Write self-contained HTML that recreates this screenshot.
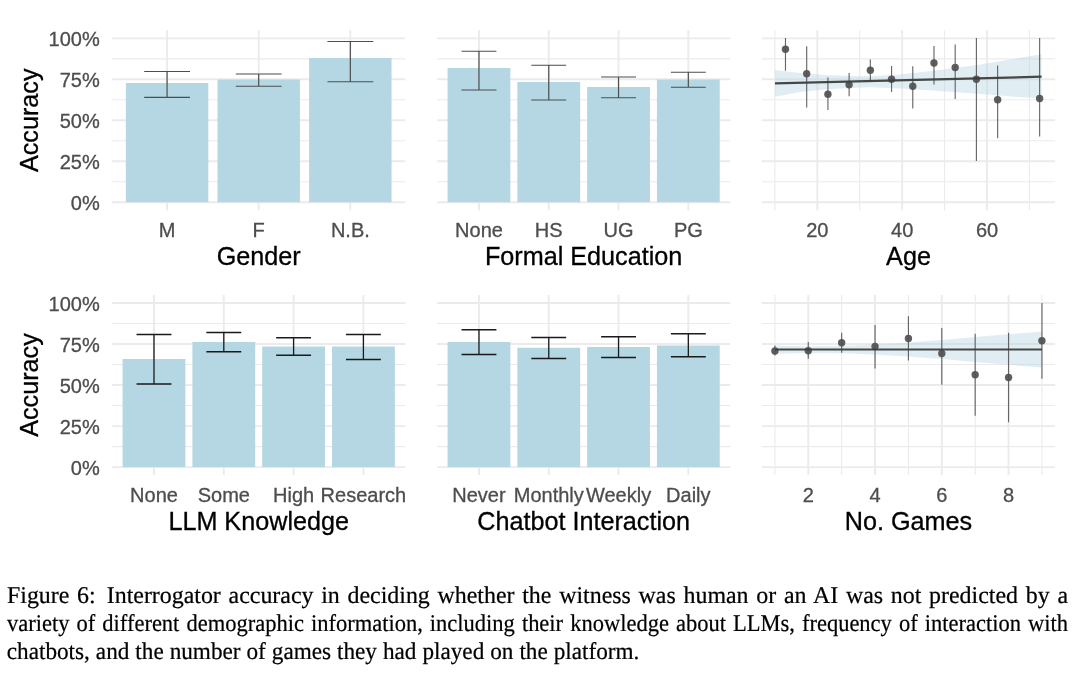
<!DOCTYPE html>
<html lang="en"><head><meta charset="utf-8"><title>Figure 6</title>
<style>
html,body{margin:0;padding:0;background:#fff;}
body{width:1080px;height:685px;position:relative;overflow:hidden;}
svg{position:absolute;left:0;top:0;display:block;}
.cap{text-rendering:geometricPrecision;position:absolute;left:6.8px;top:582px;width:1061px;font-family:"Liberation Serif","Times New Roman",serif;font-size:23.2px;line-height:28.2px;color:#000;margin:0;white-space:nowrap;-webkit-text-stroke:0.22px #000;}
.cap>div{transform:scale(1,1.035);transform-origin:0 21.9px;}
.cap .l1{transform:scale(1.03,1.035);width:calc(1061px / 1.03);}
.cap .l2{transform:scale(0.97,1.035);width:calc(1061px / 0.97);}
.cap .j{text-align:justify;text-align-last:justify;white-space:normal;}
.cap .sp{display:inline-block;width:3.2px;}

.cap .l3{word-spacing:0.2px;}
</style></head><body>
<svg width="1080" height="685" viewBox="0 0 1080 685" font-family="'Liberation Sans', Arial, Helvetica, sans-serif">
<text x="99.7" y="209.80" text-anchor="end" font-size="20" fill="#4d4d4d" stroke="#4d4d4d" stroke-width="0.3">0%</text>
<text x="99.7" y="168.84" text-anchor="end" font-size="20" fill="#4d4d4d" stroke="#4d4d4d" stroke-width="0.3">25%</text>
<text x="99.7" y="127.87" text-anchor="end" font-size="20" fill="#4d4d4d" stroke="#4d4d4d" stroke-width="0.3">50%</text>
<text x="99.7" y="86.91" text-anchor="end" font-size="20" fill="#4d4d4d" stroke="#4d4d4d" stroke-width="0.3">75%</text>
<text x="99.7" y="45.95" text-anchor="end" font-size="20" fill="#4d4d4d" stroke="#4d4d4d" stroke-width="0.3">100%</text>
<text transform="translate(38.3,120.25) rotate(-90)" text-anchor="middle" font-size="25.2" fill="#000" stroke="#000" stroke-width="0.3">Accuracy</text>
<text x="99.7" y="474.70" text-anchor="end" font-size="20" fill="#4d4d4d" stroke="#4d4d4d" stroke-width="0.3">0%</text>
<text x="99.7" y="433.68" text-anchor="end" font-size="20" fill="#4d4d4d" stroke="#4d4d4d" stroke-width="0.3">25%</text>
<text x="99.7" y="392.65" text-anchor="end" font-size="20" fill="#4d4d4d" stroke="#4d4d4d" stroke-width="0.3">50%</text>
<text x="99.7" y="351.62" text-anchor="end" font-size="20" fill="#4d4d4d" stroke="#4d4d4d" stroke-width="0.3">75%</text>
<text x="99.7" y="310.60" text-anchor="end" font-size="20" fill="#4d4d4d" stroke="#4d4d4d" stroke-width="0.3">100%</text>
<text transform="translate(38.3,385.05) rotate(-90)" text-anchor="middle" font-size="25.2" fill="#000" stroke="#000" stroke-width="0.3">Accuracy</text>
<line x1="112.1" x2="405.3" y1="181.72" y2="181.72" stroke="#ebebeb" stroke-width="1.1"/>
<line x1="112.1" x2="405.3" y1="140.76" y2="140.76" stroke="#ebebeb" stroke-width="1.1"/>
<line x1="112.1" x2="405.3" y1="99.79" y2="99.79" stroke="#ebebeb" stroke-width="1.1"/>
<line x1="112.1" x2="405.3" y1="58.83" y2="58.83" stroke="#ebebeb" stroke-width="1.1"/>
<line x1="112.1" x2="405.3" y1="202.20" y2="202.20" stroke="#ebebeb" stroke-width="1.9"/>
<line x1="112.1" x2="405.3" y1="161.24" y2="161.24" stroke="#ebebeb" stroke-width="1.9"/>
<line x1="112.1" x2="405.3" y1="120.27" y2="120.27" stroke="#ebebeb" stroke-width="1.9"/>
<line x1="112.1" x2="405.3" y1="79.31" y2="79.31" stroke="#ebebeb" stroke-width="1.9"/>
<line x1="112.1" x2="405.3" y1="38.35" y2="38.35" stroke="#ebebeb" stroke-width="1.9"/>
<line x1="167.07" x2="167.07" y1="30.2" y2="210.3" stroke="#ebebeb" stroke-width="1.9"/>
<line x1="258.70" x2="258.70" y1="30.2" y2="210.3" stroke="#ebebeb" stroke-width="1.9"/>
<line x1="350.33" x2="350.33" y1="30.2" y2="210.3" stroke="#ebebeb" stroke-width="1.9"/>
<rect x="125.84" y="83.00" width="82.46" height="119.20" fill="#b5d7e3"/>
<rect x="217.47" y="79.50" width="82.46" height="122.70" fill="#b5d7e3"/>
<rect x="309.09" y="58.00" width="82.46" height="144.20" fill="#b5d7e3"/>
<path d="M144.17 71.50H189.98M144.17 97.30H189.98M167.07 71.50V97.30" stroke="#4d4d4d" stroke-width="1.2" fill="none"/>
<path d="M235.79 74.00H281.61M235.79 86.25H281.61M258.70 74.00V86.25" stroke="#4d4d4d" stroke-width="1.2" fill="none"/>
<path d="M327.42 41.50H373.23M327.42 81.75H373.23M350.33 41.50V81.75" stroke="#4d4d4d" stroke-width="1.2" fill="none"/>
<text x="167.07" y="236.70" text-anchor="middle" font-size="20" fill="#4d4d4d" stroke="#4d4d4d" stroke-width="0.3">M</text>
<text x="258.70" y="236.70" text-anchor="middle" font-size="20" fill="#4d4d4d" stroke="#4d4d4d" stroke-width="0.3">F</text>
<text x="350.33" y="236.70" text-anchor="middle" font-size="20" fill="#4d4d4d" stroke="#4d4d4d" stroke-width="0.3">N.B.</text>
<text x="258.70" y="265.00" text-anchor="middle" font-size="25.2" fill="#000" stroke="#000" stroke-width="0.3">Gender</text>
<line x1="437.1" x2="730.2" y1="181.72" y2="181.72" stroke="#ebebeb" stroke-width="1.1"/>
<line x1="437.1" x2="730.2" y1="140.76" y2="140.76" stroke="#ebebeb" stroke-width="1.1"/>
<line x1="437.1" x2="730.2" y1="99.79" y2="99.79" stroke="#ebebeb" stroke-width="1.1"/>
<line x1="437.1" x2="730.2" y1="58.83" y2="58.83" stroke="#ebebeb" stroke-width="1.1"/>
<line x1="437.1" x2="730.2" y1="202.20" y2="202.20" stroke="#ebebeb" stroke-width="1.9"/>
<line x1="437.1" x2="730.2" y1="161.24" y2="161.24" stroke="#ebebeb" stroke-width="1.9"/>
<line x1="437.1" x2="730.2" y1="120.27" y2="120.27" stroke="#ebebeb" stroke-width="1.9"/>
<line x1="437.1" x2="730.2" y1="79.31" y2="79.31" stroke="#ebebeb" stroke-width="1.9"/>
<line x1="437.1" x2="730.2" y1="38.35" y2="38.35" stroke="#ebebeb" stroke-width="1.9"/>
<line x1="478.97" x2="478.97" y1="30.2" y2="210.3" stroke="#ebebeb" stroke-width="1.9"/>
<line x1="548.76" x2="548.76" y1="30.2" y2="210.3" stroke="#ebebeb" stroke-width="1.9"/>
<line x1="618.54" x2="618.54" y1="30.2" y2="210.3" stroke="#ebebeb" stroke-width="1.9"/>
<line x1="688.33" x2="688.33" y1="30.2" y2="210.3" stroke="#ebebeb" stroke-width="1.9"/>
<rect x="447.57" y="68.00" width="62.81" height="134.20" fill="#b5d7e3"/>
<rect x="517.35" y="82.00" width="62.81" height="120.20" fill="#b5d7e3"/>
<rect x="587.14" y="87.00" width="62.81" height="115.20" fill="#b5d7e3"/>
<rect x="656.92" y="79.50" width="62.81" height="122.70" fill="#b5d7e3"/>
<path d="M461.53 51.25H496.42M461.53 90.00H496.42M478.97 51.25V90.00" stroke="#4d4d4d" stroke-width="1.2" fill="none"/>
<path d="M531.31 65.25H566.20M531.31 100.00H566.20M548.76 65.25V100.00" stroke="#4d4d4d" stroke-width="1.2" fill="none"/>
<path d="M601.10 77.00H635.99M601.10 97.75H635.99M618.54 77.00V97.75" stroke="#4d4d4d" stroke-width="1.2" fill="none"/>
<path d="M670.88 72.25H705.77M670.88 87.25H705.77M688.33 72.25V87.25" stroke="#4d4d4d" stroke-width="1.2" fill="none"/>
<text x="478.97" y="236.70" text-anchor="middle" font-size="20" fill="#4d4d4d" stroke="#4d4d4d" stroke-width="0.3">None</text>
<text x="548.76" y="236.70" text-anchor="middle" font-size="20" fill="#4d4d4d" stroke="#4d4d4d" stroke-width="0.3">HS</text>
<text x="618.54" y="236.70" text-anchor="middle" font-size="20" fill="#4d4d4d" stroke="#4d4d4d" stroke-width="0.3">UG</text>
<text x="688.33" y="236.70" text-anchor="middle" font-size="20" fill="#4d4d4d" stroke="#4d4d4d" stroke-width="0.3">PG</text>
<text x="583.65" y="265.00" text-anchor="middle" font-size="25.2" fill="#000" stroke="#000" stroke-width="0.3">Formal Education</text>
<line x1="761.9" x2="1055.1" y1="181.72" y2="181.72" stroke="#ebebeb" stroke-width="1.1"/>
<line x1="761.9" x2="1055.1" y1="140.76" y2="140.76" stroke="#ebebeb" stroke-width="1.1"/>
<line x1="761.9" x2="1055.1" y1="99.79" y2="99.79" stroke="#ebebeb" stroke-width="1.1"/>
<line x1="761.9" x2="1055.1" y1="58.83" y2="58.83" stroke="#ebebeb" stroke-width="1.1"/>
<line x1="774.87" x2="774.87" y1="30.2" y2="210.3" stroke="#ebebeb" stroke-width="1.1"/>
<line x1="859.73" x2="859.73" y1="30.2" y2="210.3" stroke="#ebebeb" stroke-width="1.1"/>
<line x1="944.59" x2="944.59" y1="30.2" y2="210.3" stroke="#ebebeb" stroke-width="1.1"/>
<line x1="1029.45" x2="1029.45" y1="30.2" y2="210.3" stroke="#ebebeb" stroke-width="1.1"/>
<line x1="761.9" x2="1055.1" y1="202.20" y2="202.20" stroke="#ebebeb" stroke-width="1.9"/>
<line x1="761.9" x2="1055.1" y1="161.24" y2="161.24" stroke="#ebebeb" stroke-width="1.9"/>
<line x1="761.9" x2="1055.1" y1="120.27" y2="120.27" stroke="#ebebeb" stroke-width="1.9"/>
<line x1="761.9" x2="1055.1" y1="79.31" y2="79.31" stroke="#ebebeb" stroke-width="1.9"/>
<line x1="761.9" x2="1055.1" y1="38.35" y2="38.35" stroke="#ebebeb" stroke-width="1.9"/>
<line x1="817.30" x2="817.30" y1="30.2" y2="210.3" stroke="#ebebeb" stroke-width="1.9"/>
<line x1="902.16" x2="902.16" y1="30.2" y2="210.3" stroke="#ebebeb" stroke-width="1.9"/>
<line x1="987.02" x2="987.02" y1="30.2" y2="210.3" stroke="#ebebeb" stroke-width="1.9"/>
<polygon points="775.00,70.00 800.00,73.00 825.00,75.00 850.00,76.00 870.00,76.20 900.00,74.50 940.00,70.00 980.00,64.50 1020.00,57.80 1041.40,54.30 1041.40,98.30 1020.00,97.20 980.00,94.00 940.00,91.00 900.00,88.50 870.00,87.20 850.00,88.00 825.00,89.50 800.00,92.00 775.00,96.75" fill="#b5d7e3" fill-opacity="0.42"/>
<line x1="785.48" x2="785.48" y1="38.00" y2="70.75" stroke="#4d4d4d" stroke-width="1.15" stroke-opacity="0.85"/>
<line x1="806.69" x2="806.69" y1="46.25" y2="107.50" stroke="#4d4d4d" stroke-width="1.15" stroke-opacity="0.85"/>
<line x1="827.91" x2="827.91" y1="77.50" y2="110.00" stroke="#4d4d4d" stroke-width="1.15" stroke-opacity="0.85"/>
<line x1="849.12" x2="849.12" y1="73.00" y2="96.25" stroke="#4d4d4d" stroke-width="1.15" stroke-opacity="0.85"/>
<line x1="870.34" x2="870.34" y1="59.50" y2="81.25" stroke="#4d4d4d" stroke-width="1.15" stroke-opacity="0.85"/>
<line x1="891.55" x2="891.55" y1="66.00" y2="92.00" stroke="#4d4d4d" stroke-width="1.15" stroke-opacity="0.85"/>
<line x1="912.77" x2="912.77" y1="66.25" y2="108.50" stroke="#4d4d4d" stroke-width="1.15" stroke-opacity="0.85"/>
<line x1="933.98" x2="933.98" y1="46.00" y2="84.50" stroke="#4d4d4d" stroke-width="1.15" stroke-opacity="0.85"/>
<line x1="955.20" x2="955.20" y1="44.50" y2="99.00" stroke="#4d4d4d" stroke-width="1.15" stroke-opacity="0.85"/>
<line x1="976.41" x2="976.41" y1="38.00" y2="161.00" stroke="#4d4d4d" stroke-width="1.15" stroke-opacity="0.85"/>
<line x1="997.63" x2="997.63" y1="65.50" y2="138.25" stroke="#4d4d4d" stroke-width="1.15" stroke-opacity="0.85"/>
<line x1="1039.63" x2="1039.63" y1="38.00" y2="136.50" stroke="#4d4d4d" stroke-width="1.15" stroke-opacity="0.85"/>
<circle cx="785.48" cy="49.25" r="3.7" fill="#505050" fill-opacity="0.92"/>
<circle cx="806.69" cy="73.75" r="3.7" fill="#505050" fill-opacity="0.92"/>
<circle cx="827.91" cy="94.25" r="3.7" fill="#505050" fill-opacity="0.92"/>
<circle cx="849.12" cy="84.75" r="3.7" fill="#505050" fill-opacity="0.92"/>
<circle cx="870.34" cy="70.25" r="3.7" fill="#505050" fill-opacity="0.92"/>
<circle cx="891.55" cy="79.25" r="3.7" fill="#505050" fill-opacity="0.92"/>
<circle cx="912.77" cy="86.25" r="3.7" fill="#505050" fill-opacity="0.92"/>
<circle cx="933.98" cy="63.00" r="3.7" fill="#505050" fill-opacity="0.92"/>
<circle cx="955.20" cy="67.50" r="3.7" fill="#505050" fill-opacity="0.92"/>
<circle cx="976.41" cy="79.25" r="3.7" fill="#505050" fill-opacity="0.92"/>
<circle cx="997.63" cy="99.75" r="3.7" fill="#505050" fill-opacity="0.92"/>
<circle cx="1039.63" cy="98.50" r="3.7" fill="#505050" fill-opacity="0.92"/>
<line x1="775" y1="83.3" x2="1041.6" y2="76.7" stroke="#3d3d3d" stroke-width="2.2" stroke-opacity="0.95"/>
<text x="817.30" y="236.70" text-anchor="middle" font-size="20" fill="#4d4d4d" stroke="#4d4d4d" stroke-width="0.3">20</text>
<text x="902.16" y="236.70" text-anchor="middle" font-size="20" fill="#4d4d4d" stroke="#4d4d4d" stroke-width="0.3">40</text>
<text x="987.02" y="236.70" text-anchor="middle" font-size="20" fill="#4d4d4d" stroke="#4d4d4d" stroke-width="0.3">60</text>
<text x="908.50" y="265.00" text-anchor="middle" font-size="25.2" fill="#000" stroke="#000" stroke-width="0.3">Age</text>
<line x1="112.1" x2="405.3" y1="446.59" y2="446.59" stroke="#ebebeb" stroke-width="1.1"/>
<line x1="112.1" x2="405.3" y1="405.56" y2="405.56" stroke="#ebebeb" stroke-width="1.1"/>
<line x1="112.1" x2="405.3" y1="364.54" y2="364.54" stroke="#ebebeb" stroke-width="1.1"/>
<line x1="112.1" x2="405.3" y1="323.51" y2="323.51" stroke="#ebebeb" stroke-width="1.1"/>
<line x1="112.1" x2="405.3" y1="467.10" y2="467.10" stroke="#ebebeb" stroke-width="1.9"/>
<line x1="112.1" x2="405.3" y1="426.08" y2="426.08" stroke="#ebebeb" stroke-width="1.9"/>
<line x1="112.1" x2="405.3" y1="385.05" y2="385.05" stroke="#ebebeb" stroke-width="1.9"/>
<line x1="112.1" x2="405.3" y1="344.02" y2="344.02" stroke="#ebebeb" stroke-width="1.9"/>
<line x1="112.1" x2="405.3" y1="303.00" y2="303.00" stroke="#ebebeb" stroke-width="1.9"/>
<line x1="153.99" x2="153.99" y1="295" y2="475.1" stroke="#ebebeb" stroke-width="1.9"/>
<line x1="223.80" x2="223.80" y1="295" y2="475.1" stroke="#ebebeb" stroke-width="1.9"/>
<line x1="293.60" x2="293.60" y1="295" y2="475.1" stroke="#ebebeb" stroke-width="1.9"/>
<line x1="363.41" x2="363.41" y1="295" y2="475.1" stroke="#ebebeb" stroke-width="1.9"/>
<rect x="122.57" y="359.00" width="62.83" height="108.10" fill="#b5d7e3"/>
<rect x="192.38" y="342.00" width="62.83" height="125.10" fill="#b5d7e3"/>
<rect x="262.19" y="346.50" width="62.83" height="120.60" fill="#b5d7e3"/>
<rect x="332.00" y="346.50" width="62.83" height="120.60" fill="#b5d7e3"/>
<path d="M136.53 334.50H171.44M136.53 384.00H171.44M153.99 334.50V384.00" stroke="#1a1a1a" stroke-width="1.3" fill="none"/>
<path d="M206.34 332.50H241.25M206.34 351.75H241.25M223.80 332.50V351.75" stroke="#1a1a1a" stroke-width="1.3" fill="none"/>
<path d="M276.15 337.75H311.06M276.15 355.25H311.06M293.60 337.75V355.25" stroke="#1a1a1a" stroke-width="1.3" fill="none"/>
<path d="M345.96 334.50H380.87M345.96 359.50H380.87M363.41 334.50V359.50" stroke="#1a1a1a" stroke-width="1.3" fill="none"/>
<text x="153.99" y="501.50" text-anchor="middle" font-size="20" fill="#4d4d4d" stroke="#4d4d4d" stroke-width="0.3">None</text>
<text x="223.80" y="501.50" text-anchor="middle" font-size="20" fill="#4d4d4d" stroke="#4d4d4d" stroke-width="0.3">Some</text>
<text x="293.60" y="501.50" text-anchor="middle" font-size="20" fill="#4d4d4d" stroke="#4d4d4d" stroke-width="0.3">High</text>
<text x="363.41" y="501.50" text-anchor="middle" font-size="20" fill="#4d4d4d" stroke="#4d4d4d" stroke-width="0.3">Research</text>
<text x="258.70" y="529.80" text-anchor="middle" font-size="25.2" fill="#000" stroke="#000" stroke-width="0.3">LLM Knowledge</text>
<line x1="437.1" x2="730.2" y1="446.59" y2="446.59" stroke="#ebebeb" stroke-width="1.1"/>
<line x1="437.1" x2="730.2" y1="405.56" y2="405.56" stroke="#ebebeb" stroke-width="1.1"/>
<line x1="437.1" x2="730.2" y1="364.54" y2="364.54" stroke="#ebebeb" stroke-width="1.1"/>
<line x1="437.1" x2="730.2" y1="323.51" y2="323.51" stroke="#ebebeb" stroke-width="1.1"/>
<line x1="437.1" x2="730.2" y1="467.10" y2="467.10" stroke="#ebebeb" stroke-width="1.9"/>
<line x1="437.1" x2="730.2" y1="426.08" y2="426.08" stroke="#ebebeb" stroke-width="1.9"/>
<line x1="437.1" x2="730.2" y1="385.05" y2="385.05" stroke="#ebebeb" stroke-width="1.9"/>
<line x1="437.1" x2="730.2" y1="344.02" y2="344.02" stroke="#ebebeb" stroke-width="1.9"/>
<line x1="437.1" x2="730.2" y1="303.00" y2="303.00" stroke="#ebebeb" stroke-width="1.9"/>
<line x1="478.97" x2="478.97" y1="295" y2="475.1" stroke="#ebebeb" stroke-width="1.9"/>
<line x1="548.76" x2="548.76" y1="295" y2="475.1" stroke="#ebebeb" stroke-width="1.9"/>
<line x1="618.54" x2="618.54" y1="295" y2="475.1" stroke="#ebebeb" stroke-width="1.9"/>
<line x1="688.33" x2="688.33" y1="295" y2="475.1" stroke="#ebebeb" stroke-width="1.9"/>
<rect x="447.57" y="342.00" width="62.81" height="125.10" fill="#b5d7e3"/>
<rect x="517.35" y="347.75" width="62.81" height="119.35" fill="#b5d7e3"/>
<rect x="587.14" y="347.00" width="62.81" height="120.10" fill="#b5d7e3"/>
<rect x="656.92" y="345.50" width="62.81" height="121.60" fill="#b5d7e3"/>
<path d="M461.53 329.75H496.42M461.53 354.50H496.42M478.97 329.75V354.50" stroke="#1a1a1a" stroke-width="1.3" fill="none"/>
<path d="M531.31 337.50H566.20M531.31 358.50H566.20M548.76 337.50V358.50" stroke="#1a1a1a" stroke-width="1.3" fill="none"/>
<path d="M601.10 336.75H635.99M601.10 357.50H635.99M618.54 336.75V357.50" stroke="#1a1a1a" stroke-width="1.3" fill="none"/>
<path d="M670.88 333.75H705.77M670.88 356.75H705.77M688.33 333.75V356.75" stroke="#1a1a1a" stroke-width="1.3" fill="none"/>
<text x="478.97" y="501.50" text-anchor="middle" font-size="20" fill="#4d4d4d" stroke="#4d4d4d" stroke-width="0.3">Never</text>
<text x="548.76" y="501.50" text-anchor="middle" font-size="20" fill="#4d4d4d" stroke="#4d4d4d" stroke-width="0.3">Monthly</text>
<text x="618.54" y="501.50" text-anchor="middle" font-size="20" fill="#4d4d4d" stroke="#4d4d4d" stroke-width="0.3">Weekly</text>
<text x="688.33" y="501.50" text-anchor="middle" font-size="20" fill="#4d4d4d" stroke="#4d4d4d" stroke-width="0.3">Daily</text>
<text x="583.65" y="529.80" text-anchor="middle" font-size="25.2" fill="#000" stroke="#000" stroke-width="0.3">Chatbot Interaction</text>
<line x1="761.9" x2="1055.1" y1="446.59" y2="446.59" stroke="#ebebeb" stroke-width="1.1"/>
<line x1="761.9" x2="1055.1" y1="405.56" y2="405.56" stroke="#ebebeb" stroke-width="1.1"/>
<line x1="761.9" x2="1055.1" y1="364.54" y2="364.54" stroke="#ebebeb" stroke-width="1.1"/>
<line x1="761.9" x2="1055.1" y1="323.51" y2="323.51" stroke="#ebebeb" stroke-width="1.1"/>
<line x1="774.90" x2="774.90" y1="295" y2="475.1" stroke="#ebebeb" stroke-width="1.1"/>
<line x1="841.66" x2="841.66" y1="295" y2="475.1" stroke="#ebebeb" stroke-width="1.1"/>
<line x1="908.42" x2="908.42" y1="295" y2="475.1" stroke="#ebebeb" stroke-width="1.1"/>
<line x1="975.18" x2="975.18" y1="295" y2="475.1" stroke="#ebebeb" stroke-width="1.1"/>
<line x1="1041.94" x2="1041.94" y1="295" y2="475.1" stroke="#ebebeb" stroke-width="1.1"/>
<line x1="761.9" x2="1055.1" y1="467.10" y2="467.10" stroke="#ebebeb" stroke-width="1.9"/>
<line x1="761.9" x2="1055.1" y1="426.08" y2="426.08" stroke="#ebebeb" stroke-width="1.9"/>
<line x1="761.9" x2="1055.1" y1="385.05" y2="385.05" stroke="#ebebeb" stroke-width="1.9"/>
<line x1="761.9" x2="1055.1" y1="344.02" y2="344.02" stroke="#ebebeb" stroke-width="1.9"/>
<line x1="761.9" x2="1055.1" y1="303.00" y2="303.00" stroke="#ebebeb" stroke-width="1.9"/>
<line x1="808.28" x2="808.28" y1="295" y2="475.1" stroke="#ebebeb" stroke-width="1.9"/>
<line x1="875.04" x2="875.04" y1="295" y2="475.1" stroke="#ebebeb" stroke-width="1.9"/>
<line x1="941.80" x2="941.80" y1="295" y2="475.1" stroke="#ebebeb" stroke-width="1.9"/>
<line x1="1008.56" x2="1008.56" y1="295" y2="475.1" stroke="#ebebeb" stroke-width="1.9"/>
<polygon points="775.00,345.50 808.00,346.30 842.00,346.00 875.00,344.50 908.00,342.50 942.00,340.00 975.00,337.00 1008.00,334.30 1042.00,331.50 1042.00,367.50 1008.00,364.80 975.00,362.00 942.00,359.00 908.00,356.50 875.00,354.50 842.00,353.20 808.00,353.00 775.00,353.75" fill="#b5d7e3" fill-opacity="0.42"/>
<line x1="774.90" x2="774.90" y1="345.50" y2="355.50" stroke="#4d4d4d" stroke-width="1.15" stroke-opacity="0.85"/>
<line x1="808.28" x2="808.28" y1="342.00" y2="358.75" stroke="#4d4d4d" stroke-width="1.15" stroke-opacity="0.85"/>
<line x1="841.66" x2="841.66" y1="332.75" y2="352.75" stroke="#4d4d4d" stroke-width="1.15" stroke-opacity="0.85"/>
<line x1="875.04" x2="875.04" y1="325.00" y2="368.50" stroke="#4d4d4d" stroke-width="1.15" stroke-opacity="0.85"/>
<line x1="908.42" x2="908.42" y1="316.25" y2="360.50" stroke="#4d4d4d" stroke-width="1.15" stroke-opacity="0.85"/>
<line x1="941.80" x2="941.80" y1="328.00" y2="384.75" stroke="#4d4d4d" stroke-width="1.15" stroke-opacity="0.85"/>
<line x1="975.18" x2="975.18" y1="333.75" y2="415.75" stroke="#4d4d4d" stroke-width="1.15" stroke-opacity="0.85"/>
<line x1="1008.56" x2="1008.56" y1="332.75" y2="422.25" stroke="#4d4d4d" stroke-width="1.15" stroke-opacity="0.85"/>
<line x1="1041.94" x2="1041.94" y1="303.00" y2="378.75" stroke="#4d4d4d" stroke-width="1.15" stroke-opacity="0.85"/>
<circle cx="774.90" cy="351.00" r="3.7" fill="#505050" fill-opacity="0.92"/>
<circle cx="808.28" cy="350.75" r="3.7" fill="#505050" fill-opacity="0.92"/>
<circle cx="841.66" cy="342.75" r="3.7" fill="#505050" fill-opacity="0.92"/>
<circle cx="875.04" cy="346.50" r="3.7" fill="#505050" fill-opacity="0.92"/>
<circle cx="908.42" cy="338.50" r="3.7" fill="#505050" fill-opacity="0.92"/>
<circle cx="941.80" cy="353.50" r="3.7" fill="#505050" fill-opacity="0.92"/>
<circle cx="975.18" cy="374.75" r="3.7" fill="#505050" fill-opacity="0.92"/>
<circle cx="1008.56" cy="377.50" r="3.7" fill="#505050" fill-opacity="0.92"/>
<circle cx="1041.94" cy="340.75" r="3.7" fill="#505050" fill-opacity="0.92"/>
<line x1="775" y1="349.5" x2="1042" y2="349.5" stroke="#3d3d3d" stroke-width="2.2" stroke-opacity="0.95"/>
<text x="808.28" y="501.50" text-anchor="middle" font-size="20" fill="#4d4d4d" stroke="#4d4d4d" stroke-width="0.3">2</text>
<text x="875.04" y="501.50" text-anchor="middle" font-size="20" fill="#4d4d4d" stroke="#4d4d4d" stroke-width="0.3">4</text>
<text x="941.80" y="501.50" text-anchor="middle" font-size="20" fill="#4d4d4d" stroke="#4d4d4d" stroke-width="0.3">6</text>
<text x="1008.56" y="501.50" text-anchor="middle" font-size="20" fill="#4d4d4d" stroke="#4d4d4d" stroke-width="0.3">8</text>
<text x="908.50" y="529.80" text-anchor="middle" font-size="25.2" fill="#000" stroke="#000" stroke-width="0.3">No. Games</text>
</svg>
<div class="cap"><div class="j l1">Figure 6:<span class="sp"></span> Interrogator accuracy in deciding whether the witness was human or an AI was not predicted by a</div><div class="j l2">variety of different demographic information, including their knowledge about LLMs, frequency of interaction with</div><div class="l3">chatbots, and the number of games they had played on the platform.</div></div>
</body></html>
